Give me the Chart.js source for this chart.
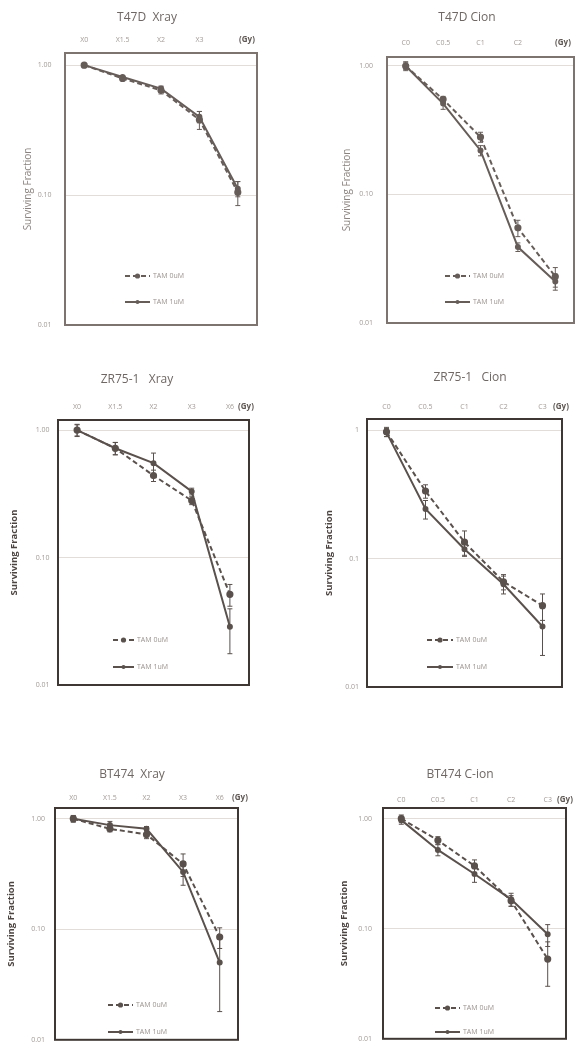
<!DOCTYPE html>
<html>
<head>
<meta charset="utf-8">
<script src="https://cdn.jsdelivr.net/npm/chart.js@4.4.1/dist/chart.umd.min.js"></script>
<style>
  body { margin: 0; background: #fff; }
  #sheet { position: relative; width: 580px; height: 1054px; overflow: hidden; }
  #sheet canvas { position: absolute; }
</style>
</head>
<body>
<div id="sheet"></div>
<script>
// dose labels along the top axis
var t47dXrayDoses = ['X0', 'X1.5', 'X2', 'X3', ''];
var t47dCionDoses = ['C0', 'C0.5', 'C1', 'C2', ''];
var xrayDoses = ['X0', 'X1.5', 'X2', 'X3', 'X6'];
var cionDoses = ['C0', 'C0.5', 'C1', 'C2', 'C3'];

// y ticks (log scale)
var yTickValues = [0.01, 0.1, 1];
var yTickLabels = ['0.01', '0.10', '1.00'];
var yTickLabelsShort = ['0.01', '0.1', '1'];

var seriesNames = ['TAM 0uM', 'TAM 1uM'];

// surviving fraction and SD per cell line / radiation
var t47dXrayTam0 = [1.00, 0.79, 0.64, 0.38, 0.105];
var t47dXrayTam0Sd = [0.03, 0.03, 0.04, 0.06, 0.022];
var t47dXrayTam1 = [1.00, 0.81, 0.66, 0.40, 0.112];
var t47dXrayTam1Sd = [0.02, 0.02, 0.03, 0.04, 0.015];

var t47dCionTam0 = [1.00, 0.55, 0.28, 0.055, 0.023];
var t47dCionTam0Sd = [0.08, 0.03, 0.025, 0.008, 0.004];
var t47dCionTam1 = [1.00, 0.51, 0.22, 0.039, 0.021];
var t47dCionTam1Sd = [0.06, 0.05, 0.02, 0.003, 0.003];

var zr75XrayTam0 = [1.00, 0.72, 0.44, 0.28, 0.0515];
var zr75XrayTam0Sd = [0.10, 0.08, 0.045, 0.02, 0.01];
var zr75XrayTam1 = [1.00, 0.72, 0.55, 0.33, 0.0286];
var zr75XrayTam1Sd = [0.11, 0.08, 0.11, 0.02, 0.011];

var zr75CionTam0 = [0.97, 0.335, 0.134, 0.066, 0.043];
var zr75CionTam0Sd = [0.08, 0.04, 0.03, 0.009, 0.01];
var zr75CionTam1 = [0.96, 0.243, 0.118, 0.063, 0.0296];
var zr75CionTam1Sd = [0.07, 0.04, 0.012, 0.01, 0.012];

var bt474XrayTam0 = [1.00, 0.81, 0.72, 0.39, 0.085];
var bt474XrayTam0Sd = [0.07, 0.05, 0.06, 0.09, 0.018];
var bt474XrayTam1 = [1.00, 0.875, 0.81, 0.33, 0.05];
var bt474XrayTam1Sd = [0.06, 0.07, 0.04, 0.08, 0.032];

var bt474CionTam0 = [1.00, 0.636, 0.372, 0.18, 0.053];
var bt474CionTam0Sd = [0.08, 0.05, 0.05, 0.02, 0.023];
var bt474CionTam1 = [0.97, 0.52, 0.314, 0.185, 0.089];
var bt474CionTam1Sd = [0.08, 0.06, 0.05, 0.025, 0.02];

Chart.defaults.font.family = '"Open Sans", "Liberation Sans", sans-serif';

// page layout of the six panels: origin = canvas [x, y, w, h], box = plot frame [l, t, r, b]
var panels = [
  { title: 'T47D  Xray', doses: t47dXrayDoses, d0: t47dXrayTam0, e0: t47dXrayTam0Sd, d1: t47dXrayTam1, e1: t47dXrayTam1Sd,
    yLabels: yTickLabels, yMax: 1.24, origin: [0, 0, 290, 345], box: [65, 53, 257, 325],
    titleAt: [147, 18], tickPad: 8.8, yPad: 13.5, yTitleX: 28, gyX: 247, legend: [125, 150, 153, 276, 302], dark: false },
  { title: 'T47D Cion', doses: t47dCionDoses, d0: t47dCionTam0, e0: t47dCionTam0Sd, d1: t47dCionTam1, e1: t47dCionTam1Sd,
    yLabels: yTickLabels, yMax: 1.175, origin: [290, 0, 290, 345], box: [387, 57, 577, 323],
    titleAt: [467, 18], tickPad: 9.8, yPad: 14, yTitleX: 347, gyX: 563, legend: [445, 470, 473, 276, 302], dark: false },
  { title: 'ZR75-1   Xray', doses: xrayDoses, d0: zr75XrayTam0, e0: zr75XrayTam0Sd, d1: zr75XrayTam1, e1: zr75XrayTam1Sd,
    yLabels: yTickLabels, yMax: 1.2, origin: [0, 345, 290, 355], box: [58, 420, 249, 685],
    titleAt: [137, 380], tickPad: 8.8, yPad: 8.5, yTitleX: 15, gyX: 246, legend: [113, 134, 137, 640, 667], dark: true },
  { title: 'ZR75-1   Cion', doses: cionDoses, d0: zr75CionTam0, e0: zr75CionTam0Sd, d1: zr75CionTam1, e1: zr75CionTam1Sd,
    yLabels: yTickLabelsShort, yMax: 1.22, origin: [290, 345, 290, 355], box: [367, 419, 562, 687],
    titleAt: [470, 378], tickPad: 7.8, yPad: 8, yTitleX: 330, gyX: 561, legend: [427, 453, 456, 640, 667], dark: true },
  { title: 'BT474  Xray', doses: xrayDoses, d0: bt474XrayTam0, e0: bt474XrayTam0Sd, d1: bt474XrayTam1, e1: bt474XrayTam1Sd,
    yLabels: yTickLabels, yMax: 1.25, origin: [0, 700, 290, 354], box: [55, 808, 238, 1048],
    titleAt: [132, 775], tickPad: 5.8, yPad: 10, yTitleX: 12, gyX: 240, legend: [108, 133, 136, 1005, 1032], dark: true },
  { title: 'BT474 C-ion', doses: cionDoses, d0: bt474CionTam0, e0: bt474CionTam0Sd, d1: bt474CionTam1, e1: bt474CionTam1Sd,
    yLabels: yTickLabels, yMax: 1.25, origin: [290, 700, 290, 354], box: [383, 808, 566, 1048],
    titleAt: [460, 775], tickPad: 3.8, yPad: 11, yTitleX: 345, gyX: 565, legend: [435, 460, 463, 1008, 1032], dark: true }
];

// frame, error bars, title, (Gy) and the in-plot legend
var decor = {
  id: 'decor',
  beforeDatasetsDraw: function (chart, args, o) {
    var a = chart.chartArea, ctx = chart.ctx;
    ctx.save();
    ctx.strokeStyle = o.frameColor;
    ctx.lineWidth = 2;
    ctx.strokeRect(a.left, a.top, a.right - a.left, a.bottom - a.top);
    ctx.restore();
  },
  afterDatasetsDraw: function (chart) {
    var ctx = chart.ctx, y = chart.scales.y;
    chart.data.datasets.forEach(function (ds, i) {
      var meta = chart.getDatasetMeta(i);
      ctx.save();
      ctx.strokeStyle = ds.borderColor;
      ctx.lineWidth = 1;
      meta.data.forEach(function (pt, j) {
        var v = ds.data[j], e = ds.sd[j];
        var top = y.getPixelForValue(v + e);
        var bot = y.getPixelForValue(Math.max(v - e, 0.005));
        ctx.beginPath();
        ctx.moveTo(pt.x, top); ctx.lineTo(pt.x, bot);
        ctx.moveTo(pt.x - 2.5, top); ctx.lineTo(pt.x + 2.5, top);
        ctx.moveTo(pt.x - 2.5, bot); ctx.lineTo(pt.x + 2.5, bot);
        ctx.stroke();
      });
      ctx.restore();
    });
  },
  afterDraw: function (chart, args, o) {
    var ctx = chart.ctx, ox = o.ox, oy = o.oy;
    ctx.save();
    ctx.textBaseline = 'middle';
    ctx.textAlign = 'center';
    ctx.fillStyle = '#6f6763';
    ctx.font = '12px "Open Sans", sans-serif';
    ctx.fillText(o.title, o.titleAt[0] - ox, o.titleAt[1] - oy);

    ctx.fillStyle = '#5f5753';
    ctx.font = 'bold 8px "Open Sans", sans-serif';
    ctx.fillText('(Gy)', o.gyX - ox, o.gyY - oy);

    var lg = o.legend;
    chart.data.datasets.forEach(function (ds, i) {
      var ly = lg[3 + i] - oy, x1 = lg[0] - ox, x2 = lg[1] - ox;
      ctx.strokeStyle = ds.borderColor;
      ctx.lineWidth = 2;
      ctx.setLineDash(ds.borderDash || []);
      ctx.beginPath();
      ctx.moveTo(x1, ly); ctx.lineTo(x2, ly);
      ctx.stroke();
      ctx.setLineDash([]);
      ctx.fillStyle = ds.pointBackgroundColor;
      ctx.beginPath();
      ctx.arc((x1 + x2) / 2, ly, ds.pointRadius, 0, Math.PI * 2);
      ctx.fill();
      ctx.fillStyle = '#9a928e';
      ctx.font = '7px "Open Sans", sans-serif';
      ctx.textAlign = 'left';
      ctx.fillText(ds.label, lg[2] - ox, ly);
    });
    ctx.restore();
  }
};

var sheet = document.getElementById('sheet');

panels.forEach(function (p) {
  var canvas = document.createElement('canvas');
  canvas.width = p.origin[2];
  canvas.height = p.origin[3];
  canvas.style.left = p.origin[0] + 'px';
  canvas.style.top = p.origin[1] + 'px';
  sheet.appendChild(canvas);

  var yAxisWidth = p.box[0] - p.origin[0];
  var xAxisHeight = p.box[1] - p.origin[1];
  var lineColor = p.dark ? '#5a514d' : '#665d59';

  new Chart(canvas.getContext('2d'), {
    type: 'line',
    data: {
      labels: p.doses,
      datasets: [
        { label: seriesNames[0], data: p.d0, sd: p.e0, borderColor: lineColor, backgroundColor: lineColor,
          pointBackgroundColor: lineColor, pointBorderColor: lineColor, pointRadius: 2.6,
          borderWidth: 2, borderDash: [5, 3], fill: false, tension: 0 },
        { label: seriesNames[1], data: p.d1, sd: p.e1, borderColor: lineColor, backgroundColor: lineColor,
          pointBackgroundColor: lineColor, pointBorderColor: lineColor, pointRadius: 2,
          borderWidth: 2, fill: false, tension: 0 }
      ]
    },
    options: {
      responsive: false,
      animation: false,
      layout: {
        padding: { left: 0, top: 0, right: p.origin[0] + p.origin[2] - p.box[2], bottom: p.origin[1] + p.origin[3] - p.box[3] }
      },
      plugins: {
        legend: { display: false },
        title: { display: false },
        tooltip: { enabled: false },
        decor: {
          frameColor: p.dark ? '#3f3734' : '#7d7470',
          ox: p.origin[0], oy: p.origin[1],
          title: p.title, titleAt: p.titleAt,
          gyX: p.gyX, gyY: p.box[1] - p.tickPad - 4.2,
          legend: p.legend
        }
      },
      scales: {
        x: {
          type: 'category',
          position: 'top',
          offset: true,
          grid: { display: false, drawTicks: false },
          border: { display: false },
          ticks: { autoSkip: false, maxRotation: 0, padding: p.tickPad, color: '#a29a96', font: { size: 7 } },
          afterFit: function (scale) { scale.height = xAxisHeight; }
        },
        y: {
          type: 'logarithmic',
          min: 0.01,
          max: p.yMax,
          grid: { color: '#e2ddd9', lineWidth: 1, drawTicks: false },
          border: { display: false },
          afterBuildTicks: function (scale) {
            scale.ticks = yTickValues.map(function (v) { return { value: v }; });
          },
          ticks: {
            padding: p.yPad,
            color: '#a29a96',
            font: { size: 7 },
            callback: function (value) {
              var k = yTickValues.indexOf(value);
              return k >= 0 ? p.yLabels[k] : '';
            }
          },
          title: {
            display: true,
            text: 'Surviving Fraction',
            color: p.dark ? '#4c4441' : '#8a827e',
            font: { size: p.dark ? 9.5 : 10, weight: p.dark ? 'bold' : 'normal' },
            padding: { top: p.yTitleX - p.origin[0] - 6, bottom: 0 }
          },
          afterFit: function (scale) { scale.width = yAxisWidth; }
        }
      }
    },
    plugins: [decor]
  });
});
</script>
</body>
</html>
